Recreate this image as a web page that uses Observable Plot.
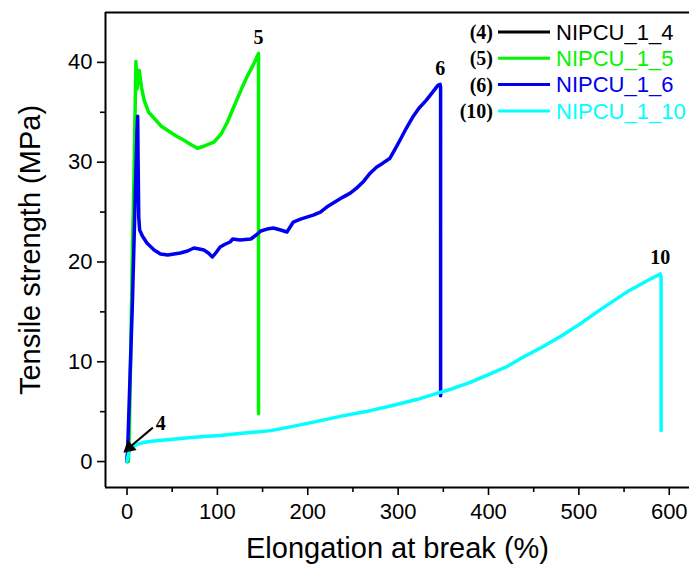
<!DOCTYPE html>
<html>
<head>
<meta charset="utf-8">
<script src="https://cdn.jsdelivr.net/npm/d3@7"></script>
<script src="https://cdn.jsdelivr.net/npm/@observablehq/plot@0.6"></script>
<style>
  html, body { margin: 0; padding: 0; background: #fff; }
  #chart { position: relative; width: 689px; height: 571px; overflow: hidden; }
</style>
</head>
<body>
<div id="chart"></div>
<script>
// ---- data ----
const seriesNames = ["NIPCU_1_4", "NIPCU_1_5", "NIPCU_1_6", "NIPCU_1_10"];
const seriesTags = ["(4)", "(5)", "(6)", "(10)"];
const seriesShort = ["4", "5", "6", "10"];
const seriesColors = ["#000000", "#00f500", "#0000f0", "#00ffff"];

const x4 = [0, 0.5, 1, 2, 3];
const y4 = [0, 0.6, 1.0, 1.3, 1.4];

const x5 = [1.5, 2.5, 6, 8, 9.9, 11, 13.6, 16, 19, 24, 30, 38, 48, 55, 63, 70, 78, 85, 96, 104, 111, 118, 126, 133, 140, 145.5, 145.5];
const y5 = [0, 2.4, 21, 30, 40.1, 37.3, 39.2, 37.5, 36.2, 35.0, 34.4, 33.6, 33.0, 32.6, 32.2, 31.8, 31.4, 31.6, 32.0, 32.8, 34.0, 35.5, 37.2, 38.6, 39.8, 40.9, 4.8];

const x6 = [0, 0.7, 6, 11, 11.8, 12.3, 13.0, 14, 17, 22, 30, 37, 45, 52, 59, 67, 74, 80, 85, 90, 94.5, 99, 103, 109, 114, 117, 125, 137, 143, 148, 155, 162, 170, 177, 184, 192, 199, 206, 214, 221, 230, 239, 247, 254, 262, 269, 276, 283, 291, 296, 302, 309, 316, 323, 331, 338, 344, 346.5, 347, 347];
const y6 = [0, 1.1, 16, 33, 34.6, 30, 24.5, 23.2, 22.6, 21.9, 21.2, 20.8, 20.7, 20.8, 20.9, 21.1, 21.4, 21.3, 21.2, 20.9, 20.5, 21.0, 21.5, 21.8, 22.0, 22.3, 22.2, 22.3, 22.7, 23.1, 23.3, 23.4, 23.2, 23.0, 24.0, 24.3, 24.5, 24.7, 25.0, 25.5, 26.0, 26.5, 26.9, 27.4, 28.1, 28.9, 29.5, 29.9, 30.4, 31.2, 32.2, 33.4, 34.5, 35.4, 36.2, 37.0, 37.7, 37.8, 37.5, 6.6];

const x10 = [0, 0.5, 1.5, 3, 5, 8, 12, 18, 25, 35, 48, 65, 85, 103, 130, 159, 185, 214, 240, 269, 295, 324, 342, 360, 379, 400, 420, 437, 460, 481, 503, 525, 540, 555, 573, 590, 591, 591];
const y10 = [0, 0.3, 0.7, 1.1, 1.35, 1.55, 1.75, 1.9, 2.0, 2.1, 2.2, 2.35, 2.5, 2.6, 2.85, 3.1, 3.55, 4.1, 4.6, 5.1, 5.65, 6.3, 6.8, 7.3, 7.9, 8.7, 9.5, 10.4, 11.5, 12.6, 13.9, 15.3, 16.2, 17.1, 18.0, 18.8, 18.5, 3.1];

const xTicks = [0, 100, 200, 300, 400, 500, 600];
const xMinorTicks = [50, 150, 250, 350, 450, 550];
const yTicks = [0, 10, 20, 30, 40];
const yMinorTicks = [5, 15, 25, 35];
const xDomain = [-23.8, 622.4];
const yDomain = [-2.6, 45];
const xTitle = "Elongation at break (%)";
const yTitle = "Tensile strength (MPa)";

// arrow annotation for sample 4: tail -> head
const arrow4 = [{x1: 28.6, y1: 3.4, x2: 2.5, y2: 1.4, label: "4"}];

// ---- build table ----
const xs = [x4, x5, x6, x10], ys = [y4, y5, y6, y10];
const rows = [];
const peaks = [];
seriesNames.forEach((name, i) => {
  let best = null;
  xs[i].forEach((x, j) => {
    const r = {series: name, x, y: ys[i][j], order: i};
    rows.push(r);
    if (!best || r.y > best.y) best = r;
  });
  if (i > 0) peaks.push({...best, label: seriesShort[i]});
});

const color = {domain: seriesNames, range: seriesColors};
const serif = "'Liberation Serif', 'Times New Roman', serif";
const sans = "'Liberation Sans', Arial, sans-serif";

const chart = Plot.plot({
  width: 689,
  height: 571,
  marginLeft: 105,
  marginRight: 0,
  marginTop: 12,
  marginBottom: 84,
  x: {domain: xDomain},
  y: {domain: yDomain},
  color,
  style: {fontFamily: sans, background: "white", overflow: "visible"},
  marks: [
    Plot.axisX({ticks: xTicks, tickSize: 8, tickPadding: 8, fontSize: 22, tickFormat: d => String(d), label: null, strokeWidth: 1.6}),
    Plot.axisX({ticks: xMinorTicks, tickSize: 5, text: null, label: null, strokeWidth: 1.6}),
    Plot.axisY({ticks: yTicks, tickSize: 8, tickPadding: 5, fontSize: 22, tickFormat: d => String(d), label: null, strokeWidth: 1.6}),
    Plot.axisY({ticks: yMinorTicks, tickSize: 5, text: null, label: null, strokeWidth: 1.6}),
    Plot.ruleX([xDomain[0]], {stroke: "black", strokeWidth: 2}),
    Plot.ruleY([yDomain[0], yDomain[1]], {stroke: "black", strokeWidth: 2}),
    ...seriesNames.map(name => Plot.line(rows.filter(r => r.series === name), {
      x: "x", y: "y", stroke: "series", strokeWidth: 3.5, strokeLinejoin: "round", strokeLinecap: "round"
    })),
    Plot.text(peaks, {x: "x", y: "y", text: "label", dy: -16, fontSize: 20, fontWeight: "bold", fontFamily: serif, fill: "black"}),
    Plot.link(arrow4, {x1: "x1", y1: "y1", x2: "x2", y2: "y2", stroke: "black", strokeWidth: 2}),
    Plot.dot(arrow4, {x: "x2", y: "y2", symbol: "triangle", r: 5, fill: "black", stroke: "none", rotate: 229}),
    Plot.text(arrow4, {x: "x1", y: "y1", text: "label", dx: 8, dy: -4, fontSize: 20, fontWeight: "bold", fontFamily: serif, fill: "black"}),
    Plot.text([xTitle], {frameAnchor: "bottom", textAnchor: "middle", dy: 70, fontSize: 29, fill: "black"}),
    Plot.text([yTitle], {frameAnchor: "left", textAnchor: "middle", dx: -75, rotate: -90, fontSize: 29, fill: "black"})
  ]
});

document.getElementById("chart").appendChild(chart);

// ---- legend (inside the plot, top right) ----
const svg = d3.select(chart);
const lg = svg.append("g");
const rowY0 = 32, rowStep = 26.3;
seriesNames.forEach((name, i) => {
  const y = rowY0 + i * rowStep;
  lg.append("text").attr("x", 493).attr("y", y).attr("dy", "0.35em")
    .attr("text-anchor", "end").attr("font-family", serif).attr("font-weight", "bold")
    .attr("font-size", 20).attr("fill", "black").text(seriesTags[i]);
  lg.append("line").attr("x1", 498).attr("x2", 550).attr("y1", y).attr("y2", y)
    .attr("stroke", seriesColors[i]).attr("stroke-width", 3);
  lg.append("text").attr("x", 556).attr("y", y).attr("dy", "0.35em")
    .attr("text-anchor", "start")
    .attr("font-family", sans)
    .attr("font-size", 22).attr("fill", seriesColors[i]).text(name);
});
</script>
</body>
</html>
